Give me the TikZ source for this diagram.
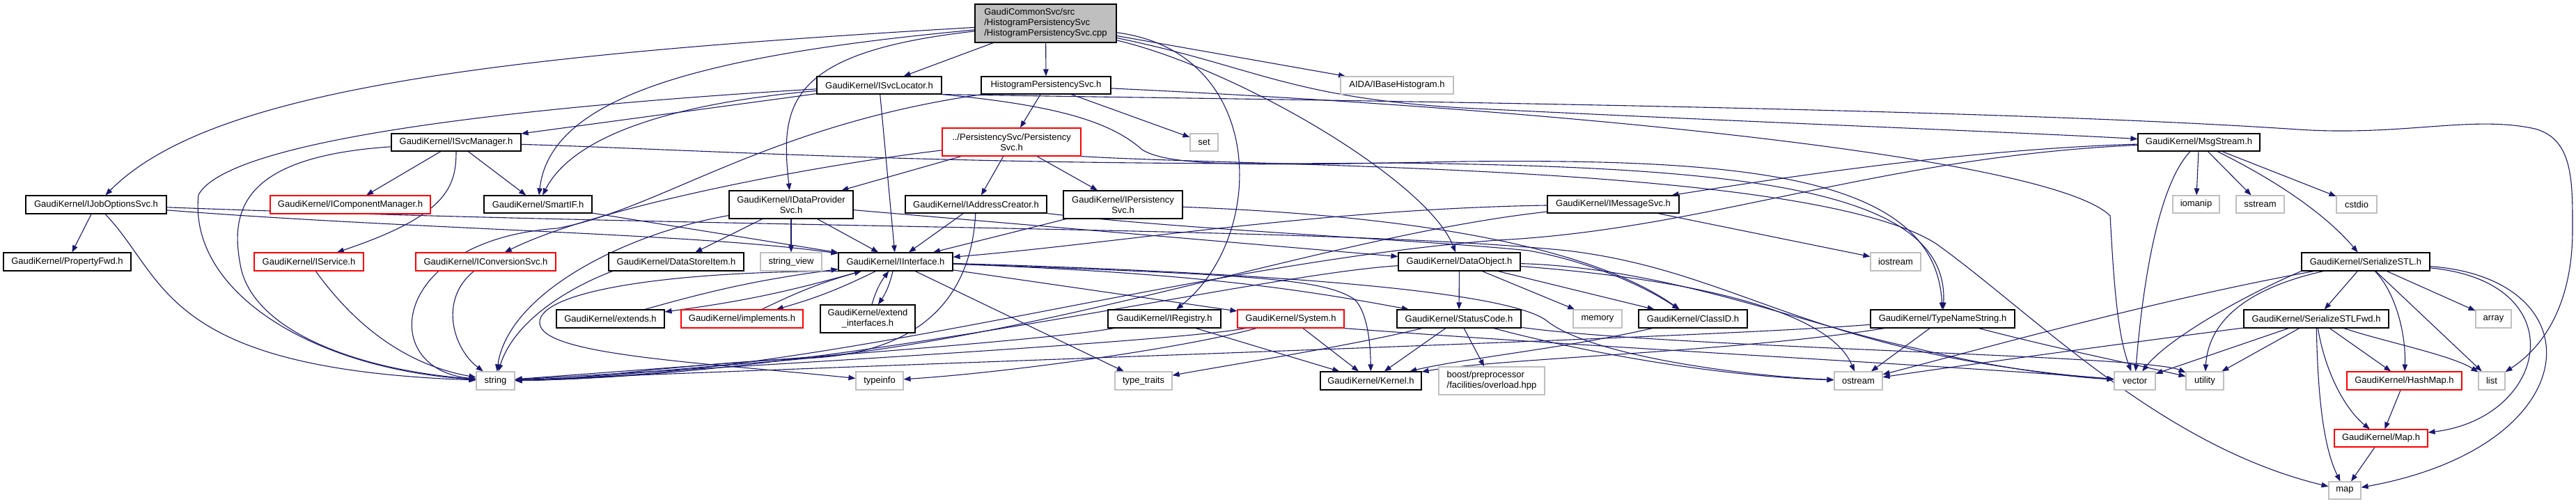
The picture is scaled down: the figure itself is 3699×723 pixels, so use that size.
\documentclass[tikz,border=0pt]{standalone}
\usepackage{fontspec}
\setmainfont{Liberation Sans}
\usetikzlibrary{arrows.meta,backgrounds}
\definecolor{edgec}{RGB}{25,25,112}
\definecolor{graybd}{RGB}{191,191,191}
\definecolor{rootfill}{RGB}{191,191,191}
\tikzset{
  nb/.style={draw=black, line width=1.1pt, fill=white, inner sep=0pt, align=center, font=\fontsize{13}{15}\selectfont},
  nr/.style={nb, draw=red},
  ng/.style={nb, draw=graybd},
  edg/.style={draw=edgec, line width=1.1pt, -{Triangle[length=10pt,width=7.5pt]}},
}
\begin{document}
\begin{tikzpicture}[x=1pt,y=1pt]
\useasboundingbox (0,0) rectangle (3699,-723);
% ---------- nodes ----------
\node[nb, fill=rootfill, minimum width=203pt, minimum height=55pt, align=left] (root) at (1501.5,-33.5) {GaudiCommonSvc/src\\/HistogramPersistencySvc\\/HistogramPersistencySvc.cpp};
\node[nb, minimum width=186pt, minimum height=25pt] (hps) at (1502,-122.5) {HistogramPersistencySvc.h};
\node[nb, minimum width=179pt, minimum height=25pt] (isl) at (1262.5,-122.5) {GaudiKernel/ISvcLocator.h};
\node[ng, minimum width=162pt, minimum height=25pt] (aida) at (2006,-122.5) {AIDA/IBaseHistogram.h};
\node[nr, minimum width=199pt, minimum height=40pt] (ps) at (1452.5,-204) {../PersistencySvc/Persistency\\Svc.h};
\node[ng, minimum width=40pt, minimum height=25pt] (set) at (1729,-204.5) {set};
\node[nb, minimum width=186pt, minimum height=25pt] (ism) at (655,-204.5) {GaudiKernel/ISvcManager.h};
\node[nb, minimum width=175pt, minimum height=25pt] (msg) at (3157.5,-204.5) {GaudiKernel/MsgStream.h};
\node[nb, minimum width=202pt, minimum height=26pt] (ijo) at (138,-294) {GaudiKernel/IJobOptionsSvc.h};
\node[nr, minimum width=230pt, minimum height=26pt] (icm) at (503,-294) {GaudiKernel/IComponentManager.h};
\node[nb, minimum width=155pt, minimum height=25pt] (smart) at (772.5,-293.5) {GaudiKernel/SmartIF.h};
\node[nb, minimum width=178pt, minimum height=40pt] (idp) at (1136,-294) {GaudiKernel/IDataProvider\\Svc.h};
\node[nb, minimum width=203pt, minimum height=25pt] (iac) at (1401.5,-293.5) {GaudiKernel/IAddressCreator.h};
\node[nb, minimum width=171pt, minimum height=40pt] (ips) at (1612.5,-294) {GaudiKernel/IPersistency\\Svc.h};
\node[nb, minimum width=189pt, minimum height=25pt] (ims) at (2316.5,-293.5) {GaudiKernel/IMessageSvc.h};
\node[ng, minimum width=67pt, minimum height=25pt] (iom) at (3153.5,-293.5) {iomanip};
\node[ng, minimum width=69pt, minimum height=25pt] (sst) at (3245.5,-293.5) {sstream};
\node[ng, minimum width=58pt, minimum height=25pt] (cst) at (3384,-293.5) {cstdio};
% row 4
\node[nb, minimum width=183pt, minimum height=26pt] (pfwd) at (96.5,-376) {GaudiKernel/PropertyFwd.h};
\node[nr, minimum width=157pt, minimum height=26pt] (isvc) at (443.5,-376) {GaudiKernel/IService.h};
\node[nr, minimum width=201pt, minimum height=26pt] (icnv) at (697.5,-376) {GaudiKernel/IConversionSvc.h};
\node[nb, minimum width=194pt, minimum height=26pt] (dsi) at (971,-376) {GaudiKernel/DataStoreItem.h};
\node[ng, minimum width=88pt, minimum height=26pt] (sv) at (1136,-376) {string\_view};
\node[nb, minimum width=164pt, minimum height=26pt] (ii) at (1286,-376) {GaudiKernel/IInterface.h};
\node[nb, minimum width=175pt, minimum height=26pt] (dobj) at (2095.5,-376) {GaudiKernel/DataObject.h};
\node[ng, minimum width=72pt, minimum height=26pt] (iost) at (2722,-376) {iostream};
\node[nb, minimum width=184pt, minimum height=26pt] (sstl) at (3397,-376) {GaudiKernel/SerializeSTL.h};
% row 5
\node[nb, minimum width=155pt, minimum height=26pt] (ext) at (876.5,-458) {GaudiKernel/extends.h};
\node[nr, minimum width=175pt, minimum height=26pt] (impl) at (1065.5,-458) {GaudiKernel/implements.h};
\node[nb, minimum width=136pt, minimum height=40pt] (eif) at (1246,-458) {GaudiKernel/extend\\\_interfaces.h};
\node[nb, minimum width=162pt, minimum height=26pt] (ireg) at (1672,-458) {GaudiKernel/IRegistry.h};
\node[nr, minimum width=153pt, minimum height=26pt] (sys) at (1853.5,-458) {GaudiKernel/System.h};
\node[nb, minimum width=178pt, minimum height=26pt] (sc) at (2095,-458) {GaudiKernel/StatusCode.h};
\node[ng, minimum width=70pt, minimum height=26pt] (mem) at (2294,-458) {memory};
\node[nb, minimum width=156pt, minimum height=26pt] (cid) at (2431,-458) {GaudiKernel/ClassID.h};
\node[nb, minimum width=207pt, minimum height=26pt] (tns) at (2789.5,-458) {GaudiKernel/TypeNameString.h};
\node[nb, minimum width=208pt, minimum height=26pt] (sfwd) at (3326,-458) {GaudiKernel/SerializeSTLFwd.h};
\node[ng, minimum width=51pt, minimum height=26pt] (arr) at (3580.5,-458) {array};
% row 6
\node[ng, minimum width=55pt, minimum height=26pt] (str) at (711.5,-547) {string};
\node[ng, minimum width=68pt, minimum height=26pt] (tinfo) at (1263,-547) {typeinfo};
\node[ng, minimum width=82pt, minimum height=26pt] (ttr) at (1642,-547) {type\_traits};
\node[nb, minimum width=145pt, minimum height=26pt] (kern) at (1968.5,-547) {GaudiKernel/Kernel.h};
\node[ng, minimum width=152pt, minimum height=40pt, align=left] (boost) at (2142,-547) {boost/preprocessor\\/facilities/overload.hpp};
\node[ng, minimum width=69pt, minimum height=26pt] (ost) at (2668.5,-547) {ostream};
\node[ng, minimum width=59pt, minimum height=26pt] (vec) at (3065.5,-547) {vector};
\node[ng, minimum width=54pt, minimum height=26pt] (util) at (3166,-547) {utility};
\node[nr, minimum width=165pt, minimum height=26pt] (hm) at (3452.5,-547) {GaudiKernel/HashMap.h};
\node[ng, minimum width=38pt, minimum height=26pt] (list) at (3578,-547) {list};
\node[nr, minimum width=134pt, minimum height=25pt] (maph) at (3419,-629.5) {GaudiKernel/Map.h};
\node[ng, minimum width=46pt, minimum height=25pt] (map) at (3367,-704.5) {map};
% ---------- edges ----------
\begin{scope}[on background layer]
\fill[white] (0,0) rectangle (3699,-723);
% root
\draw[edg] (root) -- (hps);
\draw[edg] (root) -- (isl);
\draw[edg] (root) .. controls (700,-80) and (300,-130) .. (ijo);
\draw[edg] (root) .. controls (1000,-80) and (790,-140) .. (smart);
\draw[edg] (root) .. controls (1130,-75) and (1120,-150) .. (idp);
\draw[edg] (root) -- (aida);
\draw[edg] (root) .. controls (1800,-95) and (1850,-140) .. (2100,-155) .. controls (2500,-175) and (2900,-190) .. (msg);
\draw[edg] (root) .. controls (1780,-100) and (2050,-260) .. (dobj);
\draw[edg] (root) .. controls (1820,-75) and (1820,-340) .. (ireg);
% hps
\draw[edg] (hps) -- (ps);
\draw[edg] (hps) -- (set);
\draw[edg] (hps) .. controls (1100,-180) and (950,-300) .. (800,-328) .. controls (560,-345) and (540,-530) .. (str);
\draw[edg] (hps) .. controls (2300,-160) and (2950,-230) .. (3030,-310) .. controls (3035,-400) and (3040,-480) .. (vec);
% isl
\draw[edg] (isl) -- (ii);
\draw[edg] (isl) -- (ism);
\draw[edg] (isl) .. controls (950,-150) and (820,-200) .. (smart);
\draw[edg] (isl) .. controls (800,-150) and (330,-195) .. (285,-280) .. controls (270,-420) and (450,-530) .. (str);
\draw[edg] (isl.south east) .. controls (1700,-142) and (2800,-152) .. (3300,-186) .. controls (3450,-196) and (3550,-165) .. (3640,-185) .. controls (3695,-200) and (3694,-260) .. (3694,-330) .. controls (3694,-440) and (3650,-500) .. (list);
\draw[edg] (isl.south east) .. controls (1500,-150) and (1590,-170) .. (1640,-215) .. controls (1680,-240) and (1800,-238) .. (2100,-232) .. controls (2500,-228) and (2780,-250) .. (tns);
% ism
\draw[edg] (ism) -- (icm);
\draw[edg] (ism) -- (smart);
\draw[edg] (ism) .. controls (655,-270) and (640,-310) .. (isvc);
\draw[edg] (ism) .. controls (350,-225) and (330,-300) .. (345,-380) .. controls (360,-470) and (500,-530) .. (str);
\draw[edg] (ism) .. controls (1000,-215) and (1400,-240) .. (2000,-234) .. controls (2500,-240) and (2800,-270) .. (tns);
% ps
\draw[edg] (ps) -- (idp);
\draw[edg] (ps) -- (iac);
\draw[edg] (ps) -- (ips);
\draw[edg] (ps) .. controls (1150,-240) and (850,-300) .. (icnv);
\draw[edg] (ps.south east) .. controls (1800,-240) and (2600,-235) .. (2780,-350) .. controls (2920,-450) and (3100,-640) .. (map);
% ijo
\draw[edg] (ijo) -- (pfwd);
\draw[edg] (ijo) .. controls (240,-400) and (230,-530) .. (str);
\draw[edg] (ijo) .. controls (600,-330) and (1000,-335) .. (ii);
\draw[edg] (ijo) .. controls (1100,-330) and (1900,-325) .. (2250,-360) .. controls (2500,-390) and (2600,-510) .. (vec);
% smart
\draw[edg] (smart) -- (ii);
% idp
\draw[edg] (idp) -- (dsi);
\draw[edg] (idp) -- (sv);
\draw[edg] (idp) -- (ii);
\draw[edg] (idp) .. controls (900,-335) and (730,-420) .. (str);
\draw[edg] (idp) -- (dobj);
% iac
\draw[edg] (iac) -- (ii);
\draw[edg] (iac) .. controls (1395,-420) and (1330,-510) .. (1150,-515) .. controls (950,-525) and (850,-545) .. (str);
\draw[edg] (iac.south east) .. controls (1700,-330) and (2050,-345) .. (2195,-360) .. controls (2280,-375) and (2360,-410) .. (cid);
% ips
\draw[edg] (ips) -- (ii);
\draw[edg] (ips) .. controls (1900,-305) and (2250,-330) .. (cid);
% ims
\draw[edg] (ims) -- (iost);
\draw[edg] (ims) .. controls (1900,-300) and (1600,-350) .. (ii);
\draw[edg] (ims) .. controls (1900,-340) and (1500,-490) .. (1100,-520) .. controls (900,-535) and (850,-545) .. (str);
% ii
\draw[edg] (ii) to[bend left=4] (ext);
\draw[edg] (ext) to[bend left=4] (ii);
\draw[edg] (ii) to[bend left=5] (impl);
\draw[edg] (impl) to[bend left=5] (ii);
\draw[edg] (ii) to[bend left=10] (eif);
\draw[edg] (eif) to[bend left=10] (ii);
\draw[edg] (ii) -- (sys);
\draw[edg] (ii) .. controls (1700,-392) and (1850,-412) .. (sc);
\draw[edg] (ii) .. controls (1800,-395) and (1900,-400) .. (1945,-430) .. controls (1965,-450) and (1968,-500) .. (kern);
\draw[edg] (ii) .. controls (1700,-388) and (2150,-410) .. (2220,-460) .. controls (2280,-510) and (2500,-540) .. (ost);
\draw[edg] (ii) -- (ttr);
\draw[edg] (ii.south west) .. controls (950,-390) and (770,-420) .. (775,-465) .. controls (780,-510) and (1000,-520) .. (tinfo);
% ireg
\draw[edg] (ireg) -- (kern);
\draw[edg] (ireg) .. controls (1500,-490) and (1000,-525) .. (str);
% sys
\draw[edg] (sys) -- (kern);
\draw[edg] (sys) .. controls (1700,-500) and (1450,-535) .. (tinfo);
\draw[edg] (sys) .. controls (1700,-490) and (1000,-530) .. (str);
\draw[edg] (sys.south east) .. controls (2300,-500) and (2800,-525) .. (vec);
% sc
\draw[edg] (sc) -- (kern);
\draw[edg] (sc) -- (boost);
\draw[edg] (sc) .. controls (1950,-495) and (1760,-525) .. (ttr);
\draw[edg] (sc) .. controls (2250,-500) and (2450,-540) .. (ost);
\draw[edg] (sc) .. controls (2400,-500) and (3080,-510) .. (util);
% dobj
\draw[edg] (dobj) -- (sc);
\draw[edg] (dobj) -- (mem);
\draw[edg] (dobj) -- (cid);
\draw[edg] (dobj) .. controls (1800,-395) and (1200,-540) .. (str);
\draw[edg] (dobj) .. controls (2350,-395) and (2620,-430) .. (ost);
\draw[edg] (dobj) .. controls (2400,-385) and (2600,-470) .. (2750,-500) .. controls (2850,-525) and (2950,-540) .. (vec);
% cid
\draw[edg] (cid) .. controls (2250,-500) and (2100,-515) .. (kern);
% tns
\draw[edg] (tns) -- (ost);
\draw[edg] (tns) .. controls (2450,-485) and (1500,-515) .. (str);
\draw[edg] (tns) .. controls (2950,-500) and (3050,-520) .. (util);
\draw[edg] (tns) .. controls (2500,-505) and (2150,-515) .. (kern);
% msg
\draw[edg] (msg) .. controls (2800,-215) and (2500,-265) .. (ims);
\draw[edg] (msg) .. controls (2700,-225) and (2450,-330) .. (2150,-345) .. controls (1700,-380) and (1200,-540) .. (str);
\draw[edg] (msg) -- (iom);
\draw[edg] (msg) -- (sst);
\draw[edg] (msg) -- (cst);
\draw[edg] (msg) .. controls (3290,-270) and (3350,-320) .. (sstl);
\draw[edg] (msg) .. controls (3095,-270) and (3075,-430) .. (vec);
% sstl
\draw[edg] (sstl) -- (sfwd);
\draw[edg] (sstl) .. controls (3100,-430) and (2850,-500) .. (ost);
\draw[edg] (sstl.south west) .. controls (3210,-430) and (3110,-490) .. (vec);
\draw[edg] (sstl) .. controls (3200,-420) and (3170,-480) .. (util);
\draw[edg] (sstl) .. controls (3440,-420) and (3455,-480) .. (hm);
\draw[edg] (sstl) -- (list);
\draw[edg] (sstl) -- (arr);
\draw[edg] (sstl) .. controls (3700,-405) and (3660,-600) .. (maph);
\draw[edg] (sstl) .. controls (3730,-400) and (3720,-640) .. (map);
% sfwd
\draw[edg] (sfwd) -- (vec);
\draw[edg] (sfwd) -- (util);
\draw[edg] (sfwd) -- (hm);
\draw[edg] (sfwd) .. controls (3420,-490) and (3520,-510) .. (list);
\draw[edg] (sfwd) .. controls (3328,-560) and (3335,-640) .. (map);
\draw[edg] (sfwd) .. controls (3340,-540) and (3370,-590) .. (maph);
\draw[edg] (sfwd) .. controls (3150,-480) and (2850,-520) .. (ost);
% others
\draw[edg] (hm) -- (maph);
\draw[edg] (maph) -- (map);
\draw[edg] (isvc) .. controls (490,-440) and (560,-520) .. (str);
\draw[edg] (icnv) .. controls (630,-430) and (650,-500) .. (str);
\draw[edg] ([xshift=6pt]dsi.south west) .. controls (800,-420) and (735,-470) .. (str);
\end{scope}
\end{tikzpicture}
\end{document}
